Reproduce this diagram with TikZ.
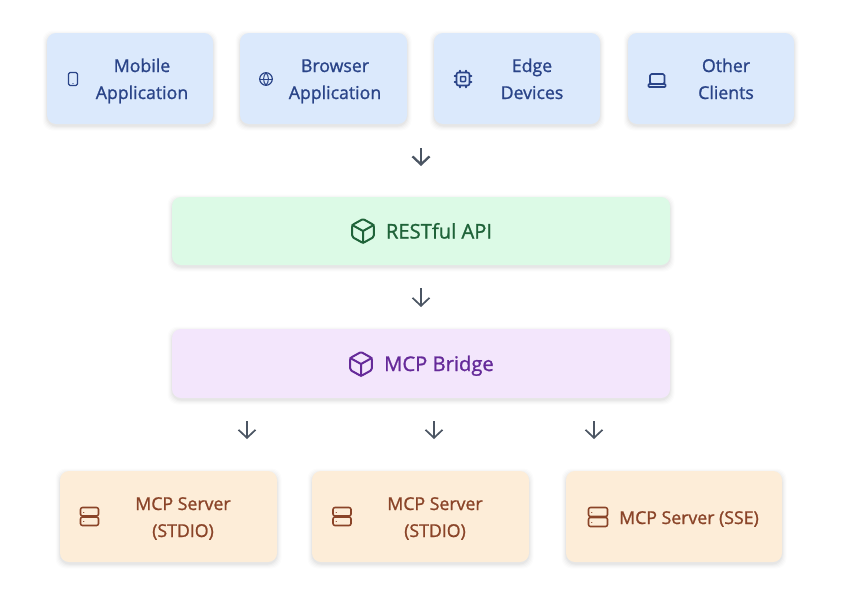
\documentclass[tikz,border=0pt]{standalone}
\usepackage{fontspec}
\newfontfamily\lab[FakeBold=1.2]{Open Sans}
\usetikzlibrary{arrows.meta}
\definecolor{bluefill}{HTML}{DBE9FC}\definecolor{bluetext}{HTML}{2A4488}
\definecolor{greenfill}{HTML}{DCFAE6}\definecolor{greentext}{HTML}{1F6339}
\definecolor{purplefill}{HTML}{F3E6FC}\definecolor{purpletext}{HTML}{652A99}
\definecolor{orangefill}{HTML}{FDEDD8}\definecolor{orangetext}{HTML}{8A4428}
\definecolor{arrowgray}{HTML}{4B5563}
\tikzset{
  x=1pt,y=-1pt,
  card/.style={rectangle,rounded corners=9pt,inner sep=0pt,fill=#1},
  label text/.style={font=\lab\fontsize{#1}{#1}\selectfont,inner sep=0pt,anchor=center,text height=13pt,text depth=1pt},
  flow/.style={draw=arrowgray,line width=#1,-{Straight Barb[length=8pt,width=17pt,line width=#1]}},
  icon/.style={line width=1.5pt,line join=round,line cap=round},
}
% soft shadow, then the card itself: name, x1, y1, x2, y2, fill
\newcommand{\cardat}[6]{%
  \foreach \e/\o in {4.5/.010,3.5/.014,2.5/.018,1.5/.022,0.6/.028}{%
    \fill[black,opacity=\o,rounded corners=10pt]
      ({#2-\e},{#3+2-\e}) rectangle ({#4+\e},{#5+2+\e});}%
  \node[card=#6,minimum width={(#4)-(#2)},minimum height={(#5)-(#3)}] (#1)
    at ({((#2)+(#4))/2},{((#3)+(#5))/2}) {};}
% cube icon: centre, half size, colour
\newcommand{\cubeicon}[4]{%
  \begin{scope}[shift={(#1,#2)},icon,draw=#4,line width=2pt]
    \draw[rounded corners=1.5pt] (0,-#3) -- (0.9*#3,-0.5*#3) -- (0.9*#3,0.5*#3) -- (0,#3)
      -- (-0.9*#3,0.5*#3) -- (-0.9*#3,-0.5*#3) -- cycle;
    \draw (-0.9*#3,-0.5*#3) -- (0,0) -- (0.9*#3,-0.5*#3) (0,0) -- (0,#3);
  \end{scope}}
% server icon: x1, y1, x2, y2
\newcommand{\servericon}[4]{%
  \begin{scope}[icon,draw=orangetext,line width=1.6pt]
    \draw[rounded corners=2pt] (#1,#2) rectangle (#3,{(#2+#4)/2-0.5});
    \draw[rounded corners=2pt] (#1,{(#2+#4)/2+0.5}) rectangle (#3,#4);
    \draw[line width=1pt] ({#1+3},{#2+4.5}) -- ({#1+3.3},{#2+4.5});
    \draw[line width=1pt] ({#1+3},{#4-4.5}) -- ({#1+3.3},{#4-4.5});
  \end{scope}}
\begin{document}
\begin{tikzpicture}
\useasboundingbox (0,0) rectangle (843,597);
\fill[white] (0,0) rectangle (843,597);
% cards
\cardat{mobile}{47}{33}{213}{124}{bluefill}
\cardat{browser}{240}{33}{407}{124}{bluefill}
\cardat{edge}{434}{33}{600}{124}{bluefill}
\cardat{other}{628}{33}{794}{124}{bluefill}
\cardat{rest}{172}{197}{670}{265}{greenfill}
\cardat{bridge}{172}{329}{670}{398}{purplefill}
\cardat{serverA}{60}{471}{277}{562}{orangefill}
\cardat{serverB}{312}{471}{529}{562}{orangefill}
\cardat{serverC}{566}{471}{782}{562}{orangefill}
% texts
\tikzset{every node/.append style={label text=17.7,text=bluetext}}
\node (t1a) at (142,66) {Mobile};
\node (t1b) at (142,93) {Application};
\node (t2a) at (335,66) {Browser};
\node (t2b) at (335,93) {Application};
\node (t3a) at (532,66) {Edge};
\node (t3b) at (532,93) {Devices};
\node (t4a) at (726,66) {Other};
\node (t4b) at (726,93) {Clients};
\node[label text=20.2,text=greentext] (t5) at (439,232.5) {RESTful API};
\node[label text=20.2,text=purpletext] (t6) at (439,365) {MCP Bridge};
\node[text=orangetext] (t7a) at (183,504) {MCP Server};
\node[text=orangetext] (t7b) at (183,531) {(STDIO)};
\node[text=orangetext] (t8a) at (435,504) {MCP Server};
\node[text=orangetext] (t8b) at (435,531) {(STDIO)};
\node[text=orangetext] (t9) at (689,518) {MCP Server (SSE)};
% icons
\begin{scope}[icon,draw=bluetext]
  \draw[rounded corners=1.5pt,line width=1.2pt] (68.5,72.5) rectangle (77.5,85.5);
  \draw[line width=.8pt] (72.8,83.3) -- (73.2,83.3);
  \draw[line width=1.2pt] (266,79) circle (6.3);
  \draw[line width=1pt] (259.7,79) -- (272.3,79);
  \draw[line width=1pt] (266,72.7) .. controls (262.8,76) and (262.8,82) .. (266,85.3)
        .. controls (269.2,82) and (269.2,76) .. (266,72.7);
  \draw[rounded corners=2pt,line width=1.7pt] (456.5,72.5) rectangle (469.5,85.5);
  \draw[rounded corners=.8pt,line width=1.5pt] (460.5,76.5) rectangle (465.5,81.5);
  \foreach \d in {-3,3}{
    \draw (463+\d,70.5) -- (463+\d,72.5) (463+\d,85.5) -- (463+\d,87.5);
    \draw (454.5,79+\d) -- (456.5,79+\d) (469.5,79+\d) -- (471.5,79+\d);}
  \draw[rounded corners=1.5pt,line width=1.7pt] (650,74) -- (664.5,74) -- (664.5,84) -- (650,84) -- cycle;
  \draw[rounded corners=.8pt,line width=1.7pt] (648.5,84) -- (665.5,84) -- (665.5,87) -- (648.5,87) -- cycle;
\end{scope}
\cubeicon{363}{231}{12}{greentext}
\cubeicon{361}{364}{12}{purpletext}
\servericon{80.5}{507.5}{98.5}{525.5}
\servericon{333}{507.5}{351}{525.5}
\servericon{588.5}{507.5}{607.5}{526.5}
% connectors
\coordinate (a1s) at (421,148); \coordinate (a1e) at (421,166);
\coordinate (a2s) at (421,288); \coordinate (a2e) at (421,307);
\coordinate (a3s) at (247,421); \coordinate (a3e) at (247,439);
\coordinate (a4s) at (434,421); \coordinate (a4e) at (434,439);
\coordinate (a5s) at (594,421); \coordinate (a5e) at (594,439);
\draw[flow=2.3pt] (a1s) -- (a1e);
\draw[flow=1.7pt] (a2s) -- (a2e);
\draw[flow=1.7pt] (a3s) -- (a3e);
\draw[flow=1.7pt] (a4s) -- (a4e);
\draw[flow=1.7pt] (a5s) -- (a5e);
\end{tikzpicture}
\end{document}
